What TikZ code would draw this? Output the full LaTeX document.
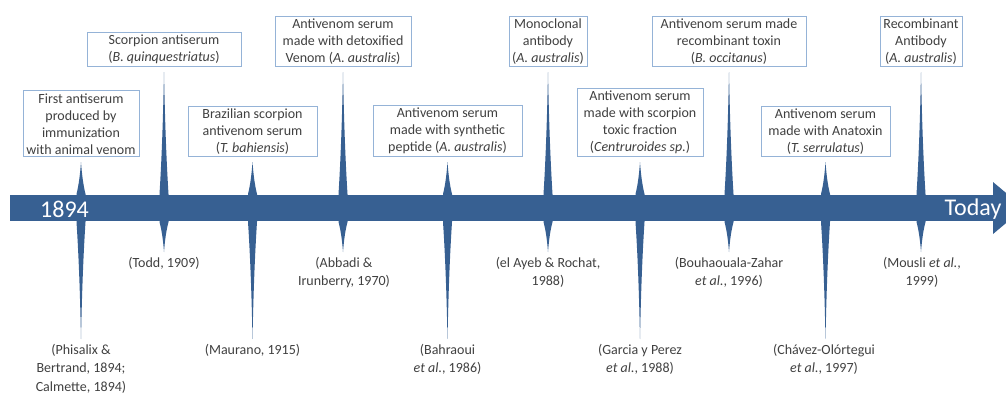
\documentclass[tikz,border=0pt]{standalone}
\usepackage{fontspec}
\setmainfont{Carlito}
\usetikzlibrary{calc}
\definecolor{tlblue}{RGB}{55,96,146}
\definecolor{boxblue}{RGB}{149,179,215}
\definecolor{txtgray}{RGB}{64,64,64}

\begin{document}
\begin{tikzpicture}[
    x=1pt, y=-1pt,
    evt/.style={draw=boxblue, line width=0.8pt, fill=white, align=center,
                text=txtgray, inner xsep=2pt, inner ysep=2.5pt, anchor=south,
                font=\fontsize{14}{17}\selectfont},
    ref/.style={align=center, text=txtgray, inner sep=0pt, anchor=north,
                font=\fontsize{14}{18.5}\selectfont},
    yr/.style={text=white, inner sep=0pt, font=\fontsize{24}{28}\selectfont},
    band/.style={fill=tlblue}
  ]
  \useasboundingbox (0,0) rectangle (1006,394);
  \clip (0,0) rectangle (1006,394);

  % time line
  \fill[band] (10,195) rectangle (994,221);
  \fill[band] (993,182) -- (1024,208) -- (993,234) -- cycle;

  % events
  \node[evt, minimum width=116pt] (e1)  at (81,157)  {First antiserum\\produced by\\immunization\\with animal venom};
  \node[evt, minimum width=154pt] (e2)  at (164,67)  {Scorpion antiserum\\(\textit{B. quinquestriatus})};
  \node[evt, minimum width=129pt] (e3)  at (252.5,157) {Brazilian scorpion\\antivenom serum\\(\textit{T. bahiensis})};
  \node[evt, minimum width=136pt] (e4)  at (343,67)  {Antivenom serum\\made with detoxified\\Venom (\textit{A. australis})};
  \node[evt, minimum width=149pt] (e5)  at (447.5,157) {Antivenom serum\\made with synthetic\\peptide (\textit{A. australis})};
  \node[evt, minimum width=78pt]  (e6)  at (548,67)  {Monoclonal\\antibody\\(\textit{A. australis})};
  \node[evt, minimum width=126pt] (e7)  at (640,157) {Antivenom serum\\made with scorpion\\toxic fraction\\(\textit{Centruroides sp.})};
  \node[evt, minimum width=154pt] (e8)  at (729,67)  {Antivenom serum made\\recombinant toxin\\(\textit{B. occitanus})};
  \node[evt, minimum width=129pt] (e9)  at (825.5,157) {Antivenom serum\\made with Anatoxin\\(\textit{T. serrulatus})};
  \node[evt, minimum width=82pt]  (e10) at (921,67)  {Recombinant\\Antibody\\(\textit{A. australis})};

  % references
  \node[ref] (r1)  at (81,344)  {(Phisalix \&\\Bertrand, 1894;\\Calmette, 1894)};
  \node[ref] (r2)  at (164,257) {(Todd, 1909)};
  \node[ref] (r3)  at (252.5,344) {(Maurano, 1915)};
  \node[ref] (r4)  at (344,257) {(Abbadi \&\\Irunberry, 1970)};
  \node[ref] (r5)  at (447.5,344) {(Bahraoui\\\textit{et al.}, 1986)};
  \node[ref] (r6)  at (548,257) {(el Ayeb \& Rochat,\\1988)};
  \node[ref] (r7)  at (640,344) {(Garcia y Perez\\\textit{et al.}, 1988)};
  \node[ref] (r8)  at (729,257) {(Bouhaouala-Zahar\\\textit{et al.}, 1996)};
  \node[ref] (r9)  at (824,344) {(Chávez-Olórtegui\\\textit{et al.}, 1997)};
  \node[ref] (r10) at (922,257) {(Mousli \textit{et al.},\\1999)};

  % spikes
  \foreach \i in {1,...,10}
    \fill[band] let \p1 = (e\i.south), \p2 = (r\i.north) in
      (\x1-4.5pt,-194pt) .. controls (\x1-2pt,{\y1/3-131.67pt}) and (\x1-0.8pt,{2*\y1/3-68.33pt}) .. (\x1,\y1-5pt)
      .. controls (\x1+0.8pt,{2*\y1/3-68.33pt}) and (\x1+2pt,{\y1/3-131.67pt}) .. (\x1+4.5pt,-194pt)
      -- (\x1+4.5pt,-222pt) .. controls (\x1+2pt,{\y2/3-145.67pt}) and (\x1+0.8pt,{2*\y2/3-70.33pt}) .. (\x1,\y2+5pt)
      .. controls (\x1-0.8pt,{2*\y2/3-70.33pt}) and (\x1-2pt,{\y2/3-145.67pt}) .. (\x1-4.5pt,-222pt) -- cycle;

  \node[yr] (start) at (64.5,209) {1894};
  \node[yr] (today) at (973,209)  {Today};
\end{tikzpicture}
\end{document}
